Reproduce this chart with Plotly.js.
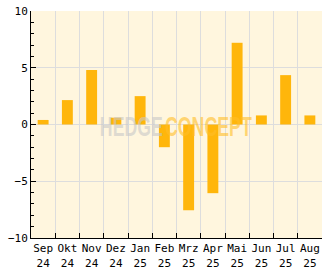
<!DOCTYPE html>
<html><head><meta charset="utf-8">
<script src="https://cdn.plot.ly/plotly-3.0.1.min.js"></script>
<style>html,body{margin:0;padding:0;background:#fff;}#chart{width:332px;height:269px;}</style>
</head><body><div id="chart"></div>
<script>
const categories = ["Sep<br>24","Okt<br>24","Nov<br>24","Dez<br>24","Jan<br>25","Feb<br>25","Mrz<br>25","Apr<br>25","Mai<br>25","Jun<br>25","Jul<br>25","Aug<br>25"];
const values = [0.4, 2.15, 4.8, 0.6, 2.5, -2.0, -7.55, -6.05, 7.2, 0.8, 4.35, 0.8];
const yTickVals = [-10, -5, 0, 5, 10];
const yTickText = ["\u221210", "\u22125", "0", "5", "10"];

const font = {family: "DejaVu Sans Mono, monospace", size: 11, color: "#000"};
const wmFont = "Liberation Sans Narrow, Arial Narrow, Liberation Sans, sans-serif";
const wmWidths = [63, 87];
Plotly.newPlot("chart", [{
  type: "bar", x: categories, y: values,
  marker: {color: "#FFB60B"}, hoverinfo: "skip"
}], {
  width: 332, height: 269,
  margin: {l: 31, r: 10, t: 11, b: 31},
  paper_bgcolor: "#ffffff", plot_bgcolor: "#FFF6DE",
  bargap: 0.55, showlegend: false, font: font,
  xaxis: {type: "category", tickson: "boundaries", ticks: "inside", ticklen: 5, tickcolor: "#000",
    showgrid: true, gridcolor: "#DDDDDD", gridwidth: 1, showline: true, linecolor: "#000", linewidth: 1,
    tickfont: font, tickangle: 0, ticklabelstandoff: 0, fixedrange: true},
  yaxis: {range: [-10, 10], tickvals: yTickVals, ticktext: yTickText, ticks: "inside", ticklen: 5, tickcolor: "#000",
    minor: {dtick: 1, ticks: "inside", ticklen: 3, tickcolor: "#000", showgrid: false},
    showgrid: true, gridcolor: "#DDDDDD", gridwidth: 1, showline: true, linecolor: "#000", linewidth: 1,
    zeroline: false, tickfont: font, fixedrange: true},
  annotations: [
    {text: "<b>HEDGE</b>", x: 0.345, y: -0.05, xref: "paper", yref: "y", showarrow: false,
     xanchor: "center", yanchor: "middle", font: {family: wmFont, size: 21, color: "rgba(200,200,200,0.6)"}},
    {text: "<b>CONCEPT</b>", x: 0.61, y: -0.05, xref: "paper", yref: "y", showarrow: false,
     xanchor: "center", yanchor: "middle", font: {family: wmFont, size: 21, color: "rgba(255,190,40,0.6)"}}
  ]
}, {staticPlot: true, displayModeBar: false}).then(function (gd) {
  gd.querySelectorAll(".annotation-text").forEach(function (t, i) {
    const b = t.getBBox();
    const cx = b.x + b.width / 2, cy = b.y + b.height / 2;
    const sx = wmWidths[i] / b.width;
    t.setAttribute("transform", "translate(" + cx + "," + cy + ") scale(" + sx + ",1.35) translate(" + (-cx) + "," + (-cy) + ")");
  });
});
</script></body></html>
